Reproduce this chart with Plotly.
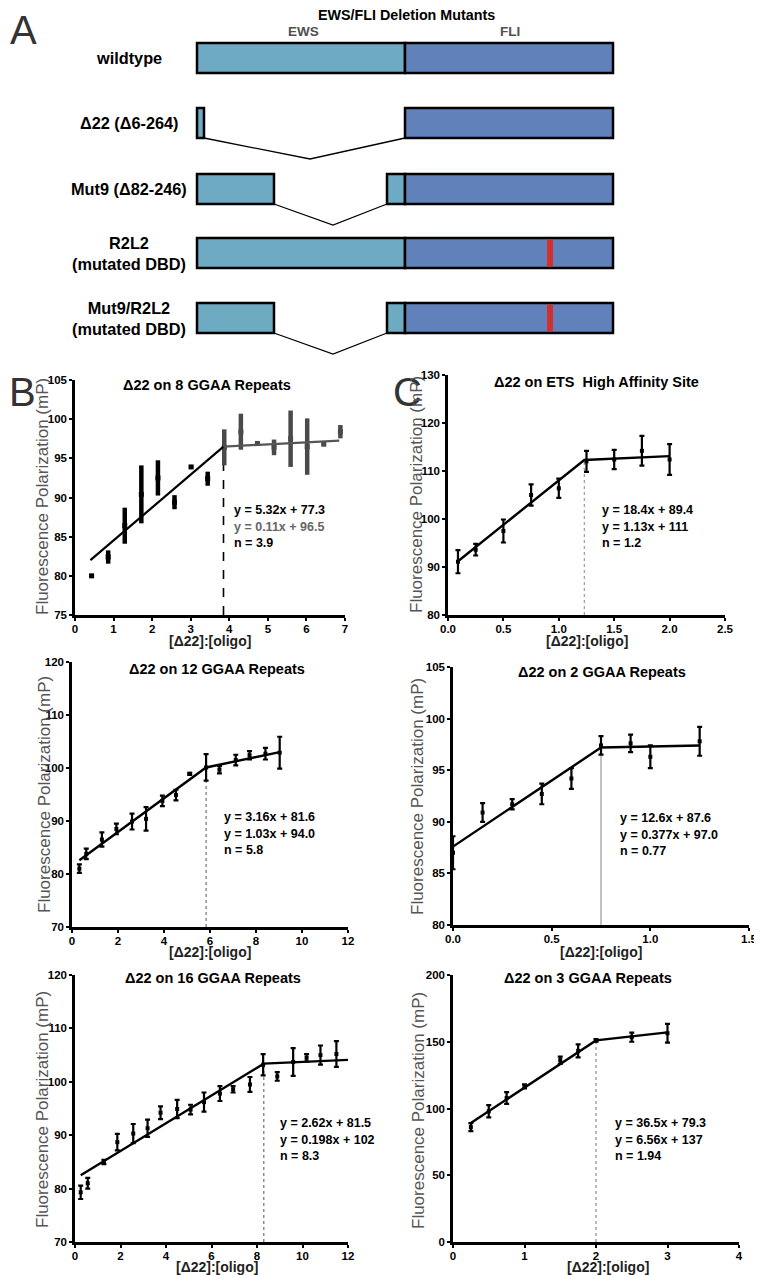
import plotly.graph_objects as go

# The page body adds an 8 px margin; the figure is sized so the picture fills the 762x1275 window.
OFF = 8
W, H = 762 - OFF, 1275 - OFF
FONT = "Liberation Sans, Arial, sans-serif"

# ---------------- Panel A data (schematic, diagram units) ----------------
construct_labels = ["wildtype", "Δ22 (Δ6-264)", "Mut9 (Δ82-246)",
                    "R2L2<br>(mutated DBD)", "Mut9/R2L2<br>(mutated DBD)"]
construct_rows = [58, 123, 189, 253, 318]
ews_segments = [[(197, 405)], [(197, 204)], [(197, 274), (387, 405)],
                [(197, 405)], [(197, 274), (387, 405)]]
fli_segment = (405, 613)
dbd_mutation = [None, None, None, 550, 550]
deletion_joins = [None, (204, 310, 405), (274, 333, 387), None, (274, 333, 387)]

# ---------------- Panel B/C data ----------------
# 8 GGAA repeats
g8_x = [0.43, 0.86, 1.29, 1.72, 2.15, 2.58, 3.01, 3.44, 3.87, 4.30, 4.73, 5.16, 5.59, 6.02, 6.45, 6.88]
g8_y = [80.0, 82.4, 86.4, 90.4, 92.5, 89.4, 93.9, 92.4, 96.4, 98.4, 96.9, 96.4, 97.5, 96.5, 96.8, 98.4]
g8_e = [0.2, 0.85, 2.3, 3.7, 2.25, 0.9, 0.2, 0.9, 2.3, 2.3, 0.2, 1.0, 3.6, 3.6, 0.2, 0.85]
g8_fit_x = [0.40, 3.85, 6.85]
g8_fit_y = [82.0, 96.5, 97.25]

# ETS high affinity site
ets_x = [0.09, 0.25, 0.5, 0.75, 1.0, 1.25, 1.5, 1.75, 2.0]
ets_y = [91.1, 93.6, 97.5, 105.0, 106.4, 112.0, 112.4, 114.2, 112.4]
ets_e = [2.4, 1.2, 2.4, 2.2, 2.0, 2.2, 2.0, 3.1, 3.2]
ets_fit_x = [0.09, 1.23, 2.0]
ets_fit_y = [91.2, 112.3, 113.1]

# 12 GGAA repeats
g12_x = [0.32, 0.62, 1.30, 1.93, 2.61, 3.22, 3.93, 4.52, 5.12, 5.83, 6.41, 7.12, 7.72, 8.41, 9.03]
g12_y = [81.0, 83.8, 86.5, 88.5, 89.9, 90.4, 93.8, 94.9, 98.9, 100.1, 99.7, 101.5, 102.4, 102.7, 102.9]
g12_e = [0.8, 1.0, 1.35, 1.0, 1.5, 2.2, 1.0, 1.0, 0.2, 2.5, 0.7, 1.0, 0.8, 1.1, 3.0]
g12_fit_x = [0.32, 5.83, 9.03]
g12_fit_y = [82.6, 100.1, 103.0]

# 2 GGAA repeats
g2_x = [0.0, 0.15, 0.30, 0.45, 0.60, 0.75, 0.90, 1.0, 1.25]
g2_y = [87.0, 90.9, 91.7, 92.7, 94.2, 97.4, 97.6, 96.3, 97.8]
g2_e = [1.6, 0.9, 0.5, 1.0, 1.0, 0.9, 0.85, 1.1, 1.4]
g2_fit_x = [0.0, 0.75, 1.25]
g2_fit_y = [87.6, 97.2, 97.4]

# 16 GGAA repeats
g16_x = [0.25, 0.56, 1.27, 1.86, 2.56, 3.19, 3.76, 4.49, 5.08, 5.67, 6.37, 6.95, 7.69, 8.27, 8.89, 9.59, 10.18, 10.79, 11.49]
g16_y = [79.3, 81.0, 85.0, 88.7, 90.3, 91.3, 94.2, 94.9, 94.8, 96.2, 97.8, 98.6, 99.5, 103.2, 101.0, 103.7, 104.5, 105.0, 105.2]
g16_e = [1.25, 1.0, 0.4, 1.55, 1.8, 1.6, 1.2, 1.7, 0.9, 1.8, 1.4, 0.6, 1.4, 2.0, 0.8, 2.6, 0.7, 1.8, 2.4]
g16_fit_x = [0.25, 8.3, 12.0]
g16_fit_y = [82.5, 103.4, 104.1]

# 3 GGAA repeats
g3_x = [0.25, 0.5, 0.75, 1.0, 1.5, 1.75, 2.0, 2.5, 3.0]
g3_y = [86.0, 97.9, 107.8, 116.6, 136.2, 143.2, 151.0, 153.4, 156.4]
g3_e = [3.0, 4.6, 4.4, 1.5, 2.7, 4.9, 1.0, 3.4, 7.0]
g3_fit_x = [0.25, 2.0, 3.0]
g3_fit_y = [89.2, 151.0, 157.0]

eq_g8 = ["y = 5.32x + 77.3", "y = 0.11x + 96.5", "n = 3.9"]
eq_ets = ["y = 18.4x + 89.4", "y = 1.13x + 111", "n = 1.2"]
eq_g12 = ["y = 3.16x + 81.6", "y = 1.03x + 94.0", "n = 5.8"]
eq_g2 = ["y = 12.6x + 87.6", "y = 0.377x + 97.0", "n = 0.77"]
eq_g16 = ["y = 2.62x + 81.5", "y = 0.198x + 102", "n = 8.3"]
eq_g3 = ["y = 36.5x + 79.3", "y = 6.56x + 137", "n = 1.94"]


def px(x):
    return (x - OFF) / W


def py(y):
    return 1 - (y - OFF) / H


def bold(size, color="black"):
    return dict(family=FONT, size=size, color=color, weight="bold")


fig = go.Figure()
shapes = []
annotations = []

# ---------------- Panel A ----------------
EWS_C = "#6FAAC3"
FLI_C = "#6181BA"
RED_C = "#D2302E"
HALF = 15
for i, row in enumerate(construct_rows):
    for (a, b) in ews_segments[i]:
        shapes.append(dict(type="rect", xref="x7", yref="y7", x0=a, x1=b, y0=row - HALF, y1=row + HALF,
                           fillcolor=EWS_C, line=dict(color="black", width=2.5), layer="above"))
    shapes.append(dict(type="rect", xref="x7", yref="y7", x0=fli_segment[0], x1=fli_segment[1],
                       y0=row - HALF, y1=row + HALF, fillcolor=FLI_C,
                       line=dict(color="black", width=2.5), layer="above"))
    if dbd_mutation[i] is not None:
        shapes.append(dict(type="line", xref="x7", yref="y7", x0=dbd_mutation[i], x1=dbd_mutation[i],
                           y0=row - HALF + 1.5, y1=row + HALF - 1.5, line=dict(color=RED_C, width=6),
                           layer="above"))
    if deletion_joins[i] is not None:
        a, m, b = deletion_joins[i]
        fig.add_trace(go.Scatter(x=[a, m, b], y=[row + HALF, row + HALF + 21, row + HALF],
                                 mode="lines", line=dict(color="black", width=1.3),
                                 xaxis="x7", yaxis="y7", showlegend=False, hoverinfo="skip"))
    annotations.append(dict(xref="x7", yref="y7", x=129, y=row, text=construct_labels[i],
                            showarrow=False, xanchor="center", yanchor="middle", align="center",
                            font=bold(16.3)))

annotations += [
    dict(xref="x7", yref="y7", x=406, y=15, text="EWS/FLI Deletion Mutants", showarrow=False,
         xanchor="center", yanchor="middle", font=bold(14.3)),
    dict(xref="x7", yref="y7", x=303, y=31, text="EWS", showarrow=False,
         xanchor="center", yanchor="middle", font=bold(13.5, "#505050")),
    dict(xref="x7", yref="y7", x=510, y=31, text="FLI", showarrow=False,
         xanchor="center", yanchor="middle", font=bold(13.5, "#505050")),
]
for letter, (lx, ly) in (("A", (23, 30)), ("B", (22, 392)), ("C", (407, 392))):
    annotations.append(dict(xref="paper", yref="paper", x=px(lx), y=py(ly), text=letter, showarrow=False,
                            xanchor="center", yanchor="middle",
                            font=dict(family=FONT, size=40, color="#333333")))

# ---------------- Panels B/C plots ----------------
panels = [
    dict(ax="", x=g8_x, y=g8_y, e=g8_e, fx=g8_fit_x, fy=g8_fit_y, xr=[0, 7], yr=[75, 105], xd=1, yd=5, xf="d",
         dom=(75, 345, 380, 615), title="Δ22 on 8 GGAA Repeats", tpos=(207, 385), eq=eq_g8, eqpos=(232, 510),
         vl=dict(color="black", width=1.6, dash="dash"), xt=(210, 641), yt=(42, 497)),
    dict(ax="2", x=ets_x, y=ets_y, e=ets_e, fx=ets_fit_x, fy=ets_fit_y, xr=[0, 2.5], yr=[80, 130], xd=0.5, yd=10,
         xf=".1f", dom=(448, 725, 375, 615), title="Δ22 on ETS  High Affinity Site", tpos=(596, 382),
         eq=eq_ets, eqpos=(600, 510), vl=dict(color="#888888", width=1, dash="dot"), xt=(587, 641),
         yt=(417, 495)),
    dict(ax="3", x=g12_x, y=g12_y, e=g12_e, fx=g12_fit_x, fy=g12_fit_y, xr=[0, 12], yr=[70, 120], xd=2, yd=10,
         xf="d", dom=(72, 348, 662, 927), title="Δ22 on 12 GGAA Repeats", tpos=(217, 669), eq=eq_g12,
         eqpos=(222, 817), vl=dict(color="#555555", width=1, dash="dot"), xt=(210, 952), yt=(45, 795)),
    dict(ax="4", x=g2_x, y=g2_y, e=g2_e, fx=g2_fit_x, fy=g2_fit_y, xr=[0, 1.5], yr=[80, 105], xd=0.5, yd=5,
         xf=".1f", dom=(453, 749, 667, 925), title="Δ22 on 2 GGAA Repeats", tpos=(602, 672), eq=eq_g2,
         eqpos=(618, 818), vl=dict(color="#999999", width=1.2, dash="solid"), xt=(601, 952), yt=(417, 797)),
    dict(ax="5", x=g16_x, y=g16_y, e=g16_e, fx=g16_fit_x, fy=g16_fit_y, xr=[0, 12], yr=[70, 120], xd=2, yd=10,
         xf="d", dom=(75, 348, 975, 1242), title="Δ22 on 16 GGAA Repeats", tpos=(213, 978), eq=eq_g16,
         eqpos=(278, 1123), vl=dict(color="#555555", width=1, dash="dot"), xt=(217, 1267), yt=(42, 1110)),
    dict(ax="6", x=g3_x, y=g3_y, e=g3_e, fx=g3_fit_x, fy=g3_fit_y, xr=[0, 4], yr=[0, 200], xd=1, yd=50,
         xf="d", dom=(453, 739, 975, 1242), title="Δ22 on 3 GGAA Repeats", tpos=(588, 978), eq=eq_g3,
         eqpos=(613, 1123), vl=dict(color="#777777", width=1, dash="dot"), xt=(608, 1267), yt=(418, 1110)),
]

layout_axes = {}
for k, p in enumerate(panels):
    xa = "x" + p["ax"]
    ya = "y" + p["ax"]
    fig.add_trace(go.Scatter(x=[p["fx"][1], p["fx"][1]], y=[p["yr"][0], p["fy"][1]], mode="lines",
                             line=p["vl"], xaxis=xa, yaxis=ya, showlegend=False, hoverinfo="skip"))
    if k == 0:
        n_first = 8
        for sl, col in ((slice(0, n_first), "black"), (slice(n_first, None), "#4a4a4a")):
            fig.add_trace(go.Scatter(x=p["x"][sl], y=p["y"][sl], mode="markers",
                                     marker=dict(symbol="square", size=5, color=col),
                                     error_y=dict(type="data", array=p["e"][sl], thickness=4.5, width=0,
                                                  color=col),
                                     xaxis=xa, yaxis=ya, showlegend=False))
        fig.add_trace(go.Scatter(x=p["fx"][:2], y=p["fy"][:2], mode="lines", line=dict(color="black", width=2.2),
                                 xaxis=xa, yaxis=ya, showlegend=False))
        fig.add_trace(go.Scatter(x=p["fx"][1:], y=p["fy"][1:], mode="lines", line=dict(color="#555555", width=2.2),
                                 xaxis=xa, yaxis=ya, showlegend=False))
    else:
        fig.add_trace(go.Scatter(x=p["x"], y=p["y"], mode="markers",
                                 marker=dict(symbol="square", size=4, color="black"),
                                 error_y=dict(type="data", array=p["e"], thickness=2.2, width=2.5,
                                              color="black"),
                                 xaxis=xa, yaxis=ya, showlegend=False, cliponaxis=False))
        fig.add_trace(go.Scatter(x=p["fx"], y=p["fy"], mode="lines", line=dict(color="black", width=2.4),
                                 xaxis=xa, yaxis=ya, showlegend=False))

    x0, x1, yt_, yb_ = p["dom"]
    common = dict(showline=True, linecolor="black", linewidth=2.5, ticks="outside", ticklen=3, tickwidth=2,
                  tickcolor="black", showgrid=False, zeroline=False, automargin=False,
                  tickfont=bold(11.5))
    layout_axes["xaxis" + p["ax"]] = dict(domain=[px(x0), px(x1)], range=p["xr"], dtick=p["xd"], tick0=0,
                                          tickformat=p["xf"], anchor=ya, ticklabelstandoff=-2, **common)
    layout_axes["yaxis" + p["ax"]] = dict(domain=[py(yb_), py(yt_)], range=p["yr"], dtick=p["yd"], tick0=0,
                                          anchor=xa, **common)

    annotations.append(dict(xref="paper", yref="paper", x=px(p["tpos"][0]), y=py(p["tpos"][1]),
                            xanchor="center", yanchor="middle", text=p["title"], showarrow=False,
                            font=bold(14.5)))
    annotations.append(dict(xref="paper", yref="paper", x=px(p["xt"][0]), y=py(p["xt"][1]),
                            xanchor="center", yanchor="middle", text="[Δ22]:[oligo]", showarrow=False,
                            font=bold(14, "#222222")))
    annotations.append(dict(xref="paper", yref="paper", x=px(p["yt"][0]), y=py(p["yt"][1]),
                            xanchor="center", yanchor="middle",
                            text="Fluorescence Polarization (mP)", showarrow=False, textangle=-90,
                            font=dict(family=FONT, size=17, color="#555555")))
    for j, line in enumerate(p["eq"]):
        col = "#666666" if (k == 0 and j == 1) else "black"
        annotations.append(dict(xref="paper", yref="paper", x=px(p["eqpos"][0]),
                                y=py(p["eqpos"][1] + j * 16.5), xanchor="left", yanchor="middle",
                                text=line, showarrow=False, font=bold(12.5, col)))

layout_axes["xaxis7"] = dict(domain=[0, 1], range=[OFF, OFF + W], visible=False, anchor="y7", fixedrange=True,
                             automargin=False)
layout_axes["yaxis7"] = dict(domain=[py(365), 1], range=[365, OFF], visible=False, anchor="x7", fixedrange=True,
                             automargin=False)

fig.update_layout(
    template="none",
    width=W, height=H, margin=dict(l=0, r=0, t=0, b=0, pad=0, autoexpand=False),
    plot_bgcolor="white", paper_bgcolor="white",
    shapes=shapes, annotations=annotations, showlegend=False,
    **layout_axes,
)

fig.write_html("out.html")
